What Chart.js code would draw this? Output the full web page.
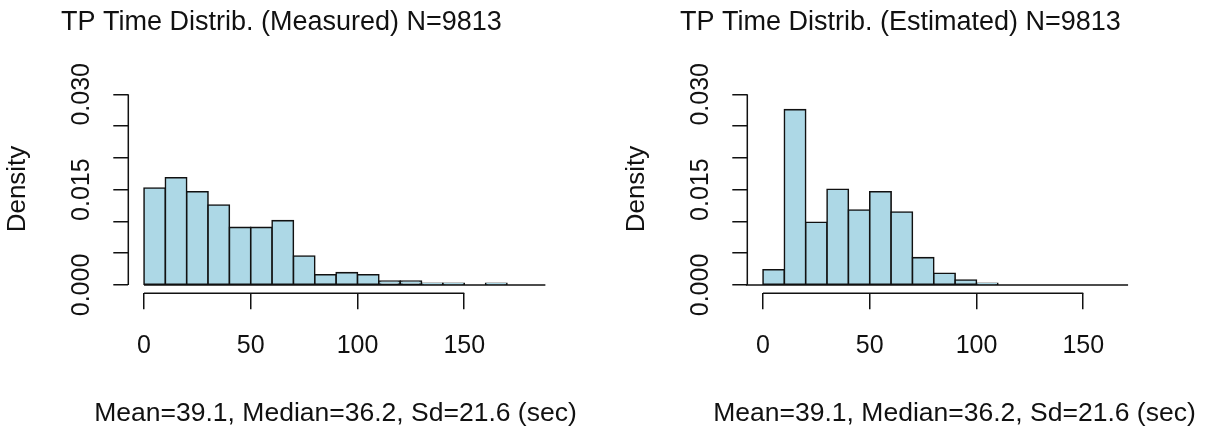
<!DOCTYPE html>
<html>
<head>
<meta charset="utf-8">
<title>TP time distributions</title>
<script src="https://cdn.jsdelivr.net/npm/chart.js@4.4.1/dist/chart.umd.min.js"></script>
<style>
  html, body { margin: 0; padding: 0; background: #fff; }
  #wrap { position: relative; width: 1231px; height: 430px; overflow: hidden; }
  #wrap canvas { position: absolute; top: 0; }
  #hist-measured { left: 0; }
  #hist-estimated { left: 619px; }
</style>
</head>
<body>
<div id="wrap">
  <canvas id="hist-measured" width="600" height="430"></canvas>
  <canvas id="hist-estimated" width="600" height="430"></canvas>
</div>
<script>
// 10-second bins: breaks (sec) and density per bin
const measuredBreaks = [0, 10, 20, 30, 40, 50, 60, 70, 80, 90, 100, 110, 120, 130, 140, 150, 160, 170];
const measuredDensity = [0.01526, 0.01688, 0.01468, 0.01258, 0.00907, 0.00907, 0.01012, 0.00456,
  0.00162, 0.00194, 0.00162, 0.00063, 0.00063, 0.00027, 0.00027, 0, 0.00027];
const measuredSpan = [0, 188];

const estimatedBreaks = [0, 10, 20, 30, 40, 50, 60, 70, 80, 90, 100, 110];
const estimatedDensity = [0.00241, 0.02758, 0.00986, 0.01505, 0.0118, 0.01468, 0.01148, 0.0043,
  0.00184, 0.00079, 0.00027];
const estimatedSpan = [-8, 171];

const xTicks = [0, 50, 100, 150];
const yTicks = [0, 0.005, 0.010, 0.015, 0.020, 0.025, 0.030];
const yLabelled = [0, 0.015, 0.030];

const sampleSize = 9813;
const summaryText = "Mean=39.1, Median=36.2, Sd=21.6 (sec)";

const FONT = "'Liberation Sans', Arial, sans-serif";
const INK = "#111";
const FILL = "#ADD8E6";

// R-style axis lines (first to last tick only) plus the summary line under the x axis.
// The summary is drawn here because the scale title squeezes text to the axis width.
const axisLines = {
  id: "axisLines",
  afterDraw(chart) {
    const { ctx, chartArea, scales } = chart;
    const x = scales.x;
    const y = scales.y;
    ctx.save();
    ctx.strokeStyle = INK;
    ctx.lineWidth = 1.5;
    ctx.beginPath();
    ctx.moveTo(chartArea.left, y.getPixelForValue(yTicks[0]));
    ctx.lineTo(chartArea.left, y.getPixelForValue(yTicks[yTicks.length - 1]));
    ctx.moveTo(x.getPixelForValue(xTicks[0]), chartArea.bottom);
    ctx.lineTo(x.getPixelForValue(xTicks[xTicks.length - 1]), chartArea.bottom);
    ctx.stroke();

    ctx.fillStyle = INK;
    ctx.font = `26.5px ${FONT}`;
    ctx.textAlign = "center";
    ctx.textBaseline = "middle";
    ctx.fillText(summaryText, (chartArea.left + chartArea.right) / 2, chart.height - 16);
    ctx.restore();
  },
};

function histogram(canvasId, label, breaks, density, span) {
  const bars = density.map((d, i) => ({ x: (breaks[i] + breaks[i + 1]) / 2, y: d }));
  const baseline = span.map((v) => ({ x: v, y: 0 }));

  return new Chart(document.getElementById(canvasId), {
    type: "bar",
    data: {
      datasets: [
        {
          type: "line",
          data: baseline,
          borderColor: INK,
          borderWidth: 1.6,
          pointRadius: 0,
          clip: false,
          order: 0,
        },
        {
          data: bars,
          backgroundColor: FILL,
          borderColor: INK,
          borderWidth: 1.6,
          borderSkipped: false,
          inflateAmount: 0.8,
          barPercentage: 1,
          categoryPercentage: 1,
          clip: false,
          order: 1,
        },
      ],
    },
    options: {
      responsive: false,
      animation: false,
      devicePixelRatio: 1,
      layout: { padding: { left: 20, right: 57.3, top: 0, bottom: 0 } },
      plugins: {
        legend: { display: false },
        tooltip: { enabled: false },
        title: {
          display: true,
          text: `TP Time Distrib. (${label}) N=${sampleSize}`,
          color: INK,
          font: { family: FONT, size: 27, weight: "normal" },
          padding: { top: 6, bottom: 46.3 },
        },
      },
      scales: {
        x: {
          type: "linear",
          min: -7.35,
          max: 186.75,
          bounds: "data",
          offset: false,
          afterBuildTicks: (s) => { s.ticks = xTicks.map((v) => ({ value: v })); },
          afterFit: (s) => { s.height = 136.7; },
          grid: { offset: false, drawOnChartArea: false, drawTicks: true, tickLength: 16, color: INK, lineWidth: 1.5 },
          border: { display: false },
          ticks: { autoSkip: false, maxRotation: 0, padding: 22, color: INK, font: { family: FONT, size: 25 } },
        },
        y: {
          min: -0.001306,
          max: 0.031508,
          bounds: "data",
          afterBuildTicks: (s) => { s.ticks = yTicks.map((v) => ({ value: v })); },
          afterFit: (s) => { s.width = 108.3; },
          grid: { drawOnChartArea: false, drawTicks: true, tickLength: 15, color: INK, lineWidth: 1.5 },
          border: { display: false },
          ticks: {
            autoSkip: false,
            minRotation: 90,
            maxRotation: 90,
            crossAlign: "center",
            padding: 0,
            color: INK,
            font: { family: FONT, size: 25 },
            callback: (v) => (yLabelled.includes(v) ? v.toFixed(3) : ""),
          },
          title: {
            display: true,
            text: "Density",
            color: INK,
            font: { family: FONT, size: 26 },
            padding: { top: -17.7, bottom: 0 },
          },
        },
      },
    },
    plugins: [axisLines],
  });
}

histogram("hist-measured", "Measured", measuredBreaks, measuredDensity, measuredSpan);
histogram("hist-estimated", "Estimated", estimatedBreaks, estimatedDensity, estimatedSpan);
</script>
</body>
</html>
